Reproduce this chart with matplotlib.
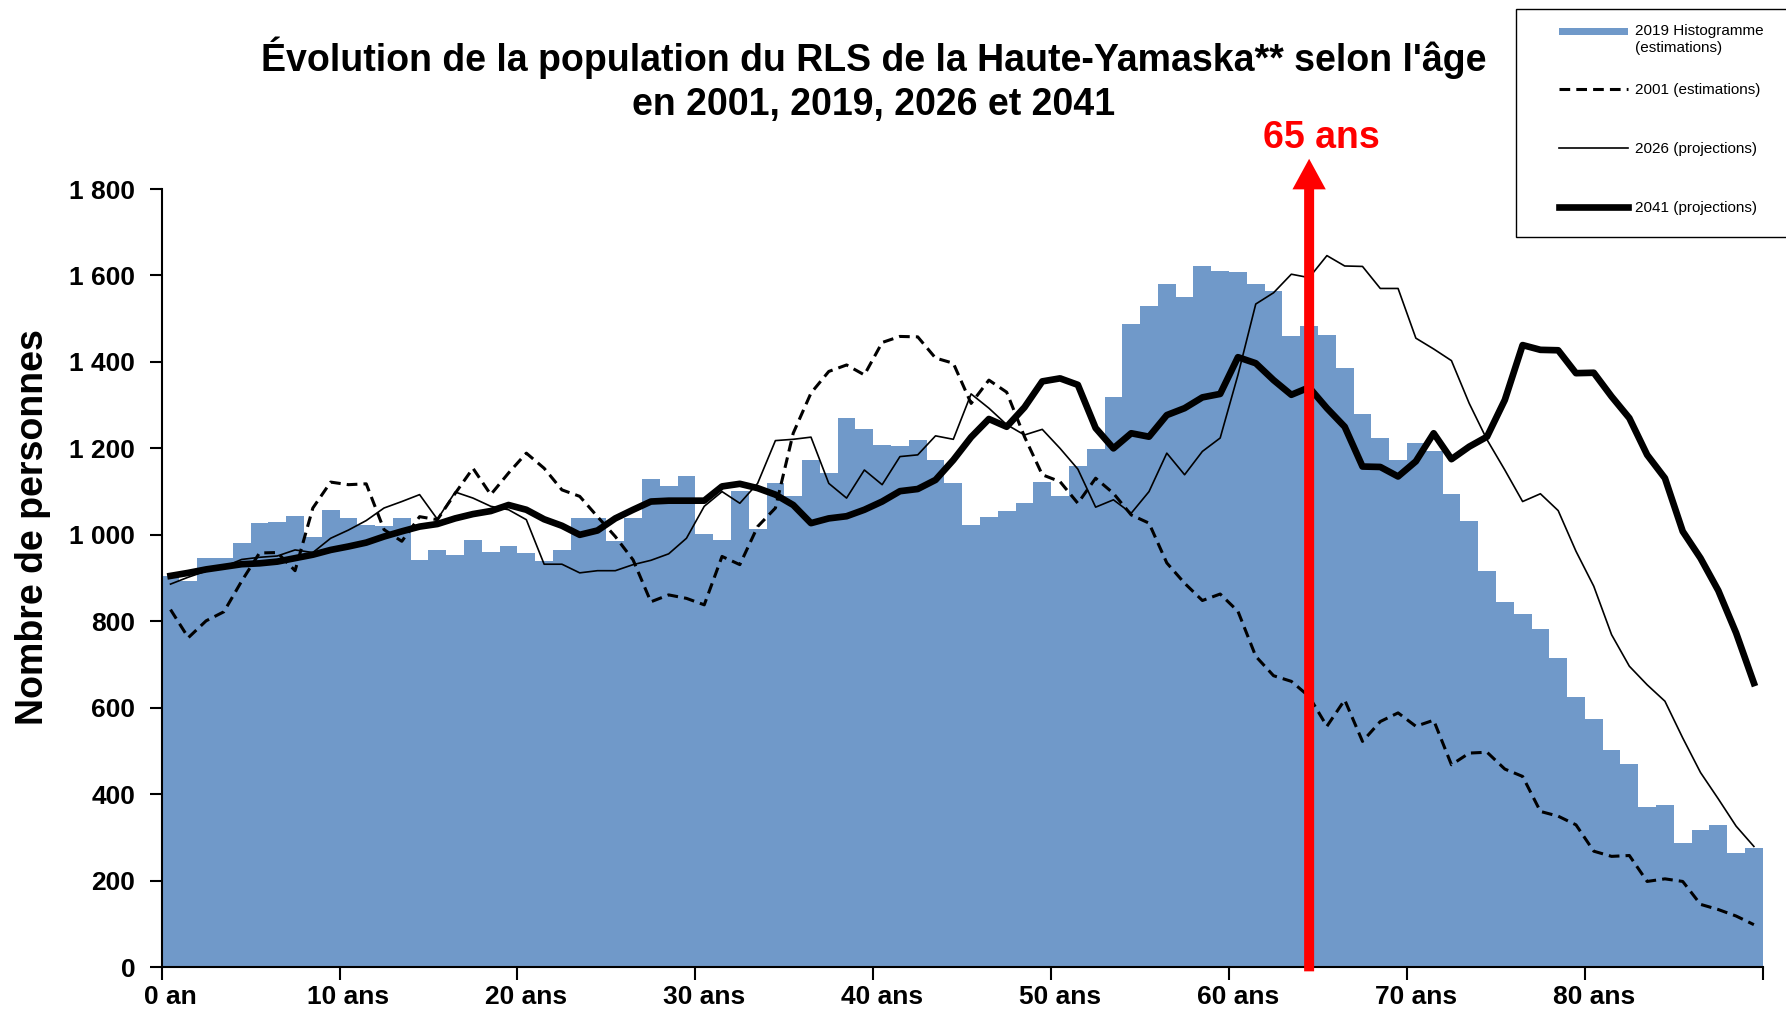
import matplotlib.pyplot as plt
import numpy as np
from matplotlib.patches import FancyArrowPatch, Rectangle
from matplotlib.lines import Line2D

plt.rcParams['font.family'] = ['Liberation Sans', 'DejaVu Sans']

# données (âge 0 à 89)
ages = np.arange(90)
age_ticks = list(range(0, 90, 10))
age_labels = ['0 an'] + [f'{a} ans' for a in range(10, 90, 10)]

pop_2019 = [905, 894, 946, 946, 982, 1027, 1030, 1044, 996, 1058,
            1039, 1023, 1021, 1039, 942, 965, 954, 987, 961, 973,
            959, 940, 966, 1038, 1040, 985, 1039, 1129, 1114, 1136,
            1002, 987, 1102, 1014, 1119, 1089, 1173, 1144, 1271, 1244,
            1207, 1206, 1220, 1172, 1119, 1023, 1042, 1056, 1073, 1123,
            1089, 1160, 1199, 1320, 1488, 1530, 1580, 1550, 1623, 1611,
            1608, 1580, 1563, 1461, 1482, 1462, 1385, 1280, 1225, 1172,
            1212, 1195, 1095, 1032, 917, 844, 817, 782, 715, 624,
            575, 501, 470, 370, 376, 287, 316, 329, 264, 276]

pop_2001 = [827, 762, 801, 822, 893, 958, 959, 917, 1062, 1122,
            1116, 1118, 1012, 985, 1042, 1035, 1096, 1154, 1093, 1143,
            1189, 1154, 1104, 1089, 1042, 996, 942, 845, 861, 853,
            838, 950, 931, 1019, 1062, 1235, 1328, 1378, 1393, 1370,
            1445, 1459, 1458, 1409, 1397, 1304, 1358, 1330, 1227, 1139,
            1123, 1073, 1131, 1096, 1046, 1027, 935, 888, 848, 863,
            823, 719, 674, 661, 626, 557, 618, 522, 568, 588,
            557, 571, 468, 495, 497, 458, 441, 360, 349, 329,
            268, 256, 258, 198, 204, 198, 145, 133, 118, 98]

pop_2026 = [886, 902, 916, 926, 943, 948, 951, 965, 959, 992,
            1011, 1033, 1062, 1077, 1093, 1036, 1099, 1085, 1066, 1058,
            1035, 932, 932, 912, 917, 917, 931, 941, 956, 992,
            1066, 1100, 1073, 1119, 1218, 1221, 1226, 1119, 1085, 1150,
            1116, 1181, 1185, 1229, 1221, 1326, 1293, 1255, 1231, 1244,
            1200, 1152, 1064, 1081, 1050, 1100, 1189, 1139, 1193, 1224,
            1370, 1534, 1560, 1603, 1595, 1646, 1622, 1621, 1570, 1570,
            1455, 1430, 1403, 1304, 1220, 1150, 1077, 1095, 1056, 962,
            881, 769, 696, 653, 615, 530, 450, 389, 326, 279]

pop_2041 = [905, 912, 920, 926, 932, 934, 938, 946, 954, 965,
            973, 982, 996, 1008, 1019, 1025, 1038, 1048, 1055, 1069,
            1058, 1036, 1021, 1000, 1010, 1038, 1058, 1077, 1079, 1079,
            1079, 1112, 1118, 1108, 1093, 1069, 1027, 1038, 1043, 1058,
            1077, 1101, 1106, 1127, 1173, 1226, 1268, 1250, 1295, 1355,
            1362, 1347, 1247, 1200, 1235, 1227, 1277, 1293, 1318, 1326,
            1411, 1397, 1358, 1324, 1341, 1293, 1250, 1158, 1157, 1135,
            1170, 1235, 1175, 1204, 1227, 1312, 1439, 1428, 1427, 1374,
            1375, 1320, 1270, 1185, 1131, 1008, 946, 871, 773, 657]

bar_color = '#7099c9'
style_2001 = dict(color='black', lw=2.2, linestyle=(0, (3.5, 2)))
style_2026 = dict(color='black', lw=1.2)
style_2041 = dict(color='black', lw=4.8)

W, H = 1786, 1011
fig = plt.figure(figsize=(W / 100, H / 100), dpi=100)
ax = fig.add_axes([0.0905, 0.0435, 0.8965, 0.7695])

ax.bar(ages, pop_2019, width=1.0, color=bar_color, linewidth=0, zorder=1)
ax.plot(ages, pop_2001, zorder=3, **style_2001)
ax.plot(ages, pop_2026, zorder=3, **style_2026)
ax.plot(ages, pop_2041, zorder=4, **style_2041)

ax.set_xlim(-0.5, 89.5)
ax.set_ylim(0, 1800)
for side in ['top', 'right']:
    ax.spines[side].set_visible(False)
for side in ['left', 'bottom']:
    ax.spines[side].set_linewidth(1.5)
    ax.spines[side].set_zorder(5)

yt = list(range(0, 1801, 200))
ax.set_yticks(yt)
ax.set_yticklabels([f'{v:,}'.replace(',', ' ') for v in yt], fontsize=19, fontweight='bold')
ax.tick_params(axis='y', length=9, width=1.5, pad=10)

# traits entre les classes, étiquettes au centre des classes
ax.set_xticks(np.arange(-0.5, 90, 10))
ax.set_xticklabels([])
ax.set_xticks(age_ticks, minor=True)
ax.set_xticklabels(age_labels, minor=True, fontsize=19, fontweight='bold')
ax.tick_params(axis='x', which='major', length=9, width=1.5)
ax.tick_params(axis='x', which='minor', length=0, pad=13)

# flèche des 65 ans
arrow = FancyArrowPatch((64, -10), (64, 1870),
                        arrowstyle='simple,tail_width=7.2,head_width=24,head_length=22',
                        mutation_scale=1, color='red', lw=0, shrinkA=0, shrinkB=0,
                        clip_on=False, zorder=6)
ax.add_patch(arrow)
ax.text(64.7, 1919, '65 ans', color='red', ha='center', va='center',
        fontsize=27, fontweight='bold', clip_on=False)

# titre
fig.text(0.489, 1 - 58 / H,
         "Évolution de la population du RLS de la Haute-Yamaska** selon l'âge",
         ha='center', va='center', fontsize=27, fontweight='bold')
fig.text(0.489, 1 - 105 / H, "en 2001, 2019, 2026 et 2041",
         ha='center', va='center', fontsize=27, fontweight='bold')

fig.text(33 / W, 1 - 527 / H, 'Nombre de personnes', rotation=90,
         ha='center', va='center', fontsize=27, fontweight='bold')

# légende (cadre coupé à droite comme dans l'original)
def fx(px):
    return px / W

def fy(py):
    return 1 - py / H

fig.add_artist(Rectangle((fx(1516), fy(237)), fx(1800) - fx(1516), fy(9) - fy(237),
                         transform=fig.transFigure, facecolor='white',
                         edgecolor='black', lw=1.0, zorder=7))
fig.add_artist(Rectangle((fx(1559), fy(34.5)), fx(1628) - fx(1559), fy(27.5) - fy(34.5),
                         transform=fig.transFigure, facecolor=bar_color, lw=0, zorder=8))
for y, st in [(89, style_2001), (148, style_2026), (207, style_2041)]:
    fig.add_artist(Line2D([fx(1559), fx(1628)], [fy(y), fy(y)],
                          transform=fig.transFigure, zorder=8, **st))

legend_texts = [(31, '2019 Histogramme'), (48, '(estimations)'),
                (90, '2001 (estimations)'), (149, '2026 (projections)'),
                (208, '2041 (projections)')]
for y, t in legend_texts:
    fig.text(fx(1635), fy(y), t, ha='left', va='center', fontsize=11, zorder=9)

fig.savefig('out.png', dpi=100)
